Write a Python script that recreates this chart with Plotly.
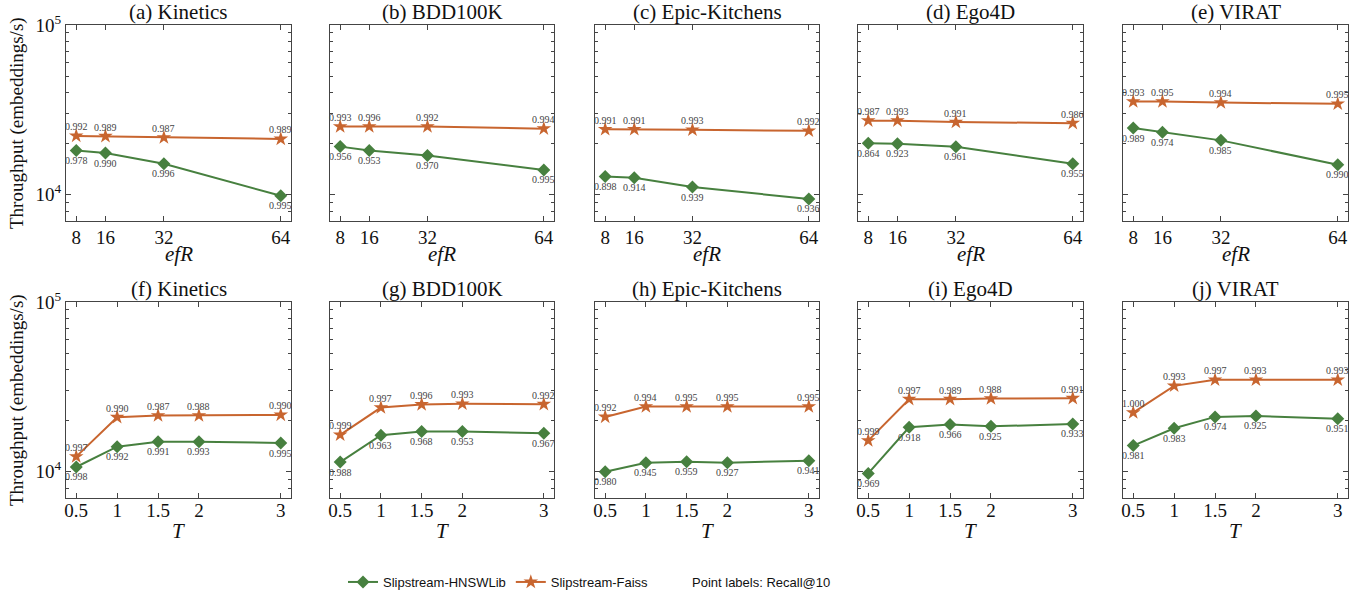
import math
import plotly.graph_objects as go

# ---------------- data ----------------
datasets = ["Kinetics", "BDD100K", "Epic-Kitchens", "Ego4D", "VIRAT"]
letters_top = ["a", "b", "c", "d", "e"]
letters_bot = ["f", "g", "h", "i", "j"]

efR = [8, 16, 32, 64]
T_vals = [0.5, 1, 1.5, 2, 3]

# efR sweep, throughput (embeddings/s)
efr_hnsw = [
    [18200, 17600, 15200, 9860],
    [19200, 18200, 17000, 14000],
    [12800, 12600, 11100, 9440],
    [20100, 19950, 19150, 15200],
    [24700, 23300, 20900, 15000],
]
efr_faiss = [
    [22200, 22100, 21700, 21300],
    [25200, 25200, 25200, 24500],
    [24300, 24300, 24100, 23800],
    [27300, 27300, 26800, 26400],
    [35400, 35400, 34900, 34300],
]
efr_hnsw_recall = [
    ["0.978", "0.990", "0.996", "0.995"],
    ["0.956", "0.953", "0.970", "0.995"],
    ["0.898", "0.914", "0.939", "0.936"],
    ["0.864", "0.923", "0.961", "0.955"],
    ["0.989", "0.974", "0.985", "0.990"],
]
efr_faiss_recall = [
    ["0.992", "0.989", "0.987", "0.989"],
    ["0.993", "0.996", "0.992", "0.994"],
    ["0.991", "0.991", "0.993", "0.992"],
    ["0.987", "0.993", "0.991", "0.986"],
    ["0.993", "0.995", "0.994", "0.995"],
]

# T sweep
t_hnsw = [
    [10660, 14050, 15030, 15030, 14760],
    [11400, 16400, 17230, 17230, 16840],
    [10000, 11300, 11460, 11300, 11610],
    [9770, 18270, 18950, 18500, 19110],
    [14250, 18030, 21030, 21320, 20480],
]
t_faiss = [
    [12270, 20940, 21430, 21430, 21610],
    [16480, 23870, 24890, 25100, 24990],
    [21030, 24200, 24200, 24200, 24200],
    [15240, 26750, 26750, 26990, 27100],
    [22300, 32060, 34770, 34770, 34770],
]
t_hnsw_recall = [
    ["0.998", "0.992", "0.991", "0.993", "0.995"],
    ["0.988", "0.963", "0.968", "0.953", "0.967"],
    ["0.980", "0.945", "0.959", "0.927", "0.941"],
    ["0.969", "0.918", "0.966", "0.925", "0.933"],
    ["0.981", "0.983", "0.974", "0.925", "0.951"],
]
t_faiss_recall = [
    ["0.997", "0.990", "0.987", "0.988", "0.990"],
    ["0.999", "0.997", "0.996", "0.993", "0.992"],
    ["0.992", "0.994", "0.995", "0.995", "0.995"],
    ["0.999", "0.997", "0.989", "0.988", "0.991"],
    ["1.000", "0.993", "0.997", "0.993", "0.993"],
]

y_major = [1e4, 1e5]
y_major_text = ["10<sup>4</sup>", "10<sup>5</sup>"]
y_minor = [8000, 9000, 20000, 30000, 40000, 50000, 60000, 70000, 80000, 90000]

# ---------------- style ----------------
W, H = 1367, 601
GREEN = "#47803f"
ORANGE = "#c8652f"
AXC = "#444444"
SERIF = "Liberation Serif"
SANS = "Liberation Sans"

x_px = [(66, 291), (330, 554), (595, 819), (858, 1083), (1123, 1348)]
y_px = [(25, 221), (302, 498)]  # top, bottom (page pixels from top)

def px2x(p):
    return p / W

def px2y(p):
    return 1 - p / H

fig = go.Figure()
annotations = []

rows = [
    dict(x=efR, hnsw=efr_hnsw, faiss=efr_faiss, hr=efr_hnsw_recall, fr=efr_faiss_recall,
         letters=letters_top, xtitle="efR", xrange=[5.2, 66.8], ticks=efR,
         ticktext=[str(v) for v in efR], standoff=-1),
    dict(x=T_vals, hnsw=t_hnsw, faiss=t_faiss, hr=t_hnsw_recall, fr=t_faiss_recall,
         letters=letters_bot, xtitle="T", xrange=[0.375, 3.125], ticks=T_vals,
         ticktext=["0.5", "1", "1.5", "2", "3"], standoff=-5),
]

for r, row in enumerate(rows):
    for c in range(5):
        k = r * 5 + c + 1
        xa = f"x{k}" if k > 1 else "x"
        ya = f"y{k}" if k > 1 else "y"
        show_leg = (k == 1)
        fig.add_trace(go.Scatter(
            x=row["x"], y=row["hnsw"][c], mode="lines+markers",
            name="Slipstream-HNSWLib", legendgroup="h", showlegend=show_leg,
            line=dict(color=GREEN, width=2),
            marker=dict(symbol="diamond", size=10, color=GREEN),
            xaxis=xa, yaxis=ya, cliponaxis=False,
        ))
        fig.add_trace(go.Scatter(
            x=row["x"], y=row["faiss"][c], mode="lines+markers",
            name="Slipstream-Faiss", legendgroup="f", showlegend=show_leg,
            line=dict(color=ORANGE, width=2),
            marker=dict(symbol="star", size=11, color=ORANGE),
            xaxis=xa, yaxis=ya, cliponaxis=False,
        ))
        # point labels (Recall@10)
        for xv, yv, t in zip(row["x"], row["hnsw"][c], row["hr"][c]):
            annotations.append(dict(x=xv, y=math.log10(yv), xref=xa, yref=ya,
                                    text=t, showarrow=False, yshift=-10,
                                    font=dict(family=SERIF, size=10, color="#444444")))
        for xv, yv, t in zip(row["x"], row["faiss"][c], row["fr"][c]):
            annotations.append(dict(x=xv, y=math.log10(yv), xref=xa, yref=ya,
                                    text=t, showarrow=False, yshift=9,
                                    font=dict(family=SERIF, size=10, color="#444444")))

        x0, x1 = x_px[c]
        yt, yb = y_px[r]
        xkey = "xaxis" if k == 1 else f"xaxis{k}"
        ykey = "yaxis" if k == 1 else f"yaxis{k}"
        fig.layout[xkey] = dict(
            domain=[px2x(x0), px2x(x1)], anchor=ya, range=row["xrange"],
            tickmode="array", tickvals=row["ticks"], ticktext=row["ticktext"],
            ticks="inside", ticklen=5, tickcolor=AXC, tickwidth=1,
            ticklabelstandoff=row["standoff"],
            showline=True, linecolor=AXC, linewidth=1, mirror="ticks",
            showgrid=False, zeroline=False, automargin=False,
            tickfont=dict(family=SERIF, size=19, color="#111111"),
        )
        fig.layout[ykey] = dict(
            domain=[px2y(yb), px2y(yt)], anchor=xa, type="log",
            range=[3.845, 5.0],
            tickmode="array", tickvals=y_major,
            ticktext=y_major_text if c == 0 else ["", ""],
            ticks="inside", ticklen=5, tickcolor=AXC, tickwidth=1,
            minor=dict(ticks="inside", ticklen=3, tickcolor=AXC, tickvals=y_minor),
            showline=True, linecolor=AXC, linewidth=1, mirror="ticks",
            showgrid=False, zeroline=False, automargin=False,
            tickfont=dict(family=SERIF, size=19, color="#111111"),
        )
        # panel title
        annotations.append(dict(
            x=(px2x(x0) + px2x(x1)) / 2, y=px2y(yt - 13), xref="paper", yref="paper",
            text=f"({row['letters'][c]}) {datasets[c]}", showarrow=False,
            xanchor="center", yanchor="middle",
            font=dict(family=SERIF, size=21, color="#111111"),
        ))
        # x-axis title
        annotations.append(dict(
            x=(px2x(x0) + px2x(x1)) / 2, y=px2y(yb + 33), xref="paper", yref="paper",
            text=f"<i>{row['xtitle']}</i>", showarrow=False,
            xanchor="center", yanchor="middle",
            font=dict(family=SERIF, size=21, color="#111111"),
        ))
    # y-axis title
    yt, yb = y_px[r]
    annotations.append(dict(
        x=px2x(17), y=px2y((yt + yb) / 2), xref="paper", yref="paper",
        text="Throughput (embeddings/s)", showarrow=False, textangle=-90,
        xanchor="center", yanchor="middle",
        font=dict(family=SERIF, size=19, color="#111111"),
    ))

annotations.append(dict(
    x=px2x(690), y=px2y(582), xref="paper", yref="paper",
    text="Point labels: Recall@10", showarrow=False,
    xanchor="left", yanchor="middle",
    font=dict(family=SANS, size=13, color="#111111"),
))

fig.update_layout(
    width=W, height=H,
    margin=dict(l=0, r=0, t=0, b=0, autoexpand=False),
    paper_bgcolor="white", plot_bgcolor="white",
    annotations=annotations,
    showlegend=True,
    legend=dict(orientation="h", x=px2x(343), y=px2y(582),
                xanchor="left", yanchor="middle",
                font=dict(family=SANS, size=13, color="#111111"),
                bgcolor="rgba(0,0,0,0)", itemwidth=30),
)

fig.write_html("out.html",
               config={"displayModeBar": False},
               post_script="document.body.style.margin='0';document.body.style.overflow='hidden';")
